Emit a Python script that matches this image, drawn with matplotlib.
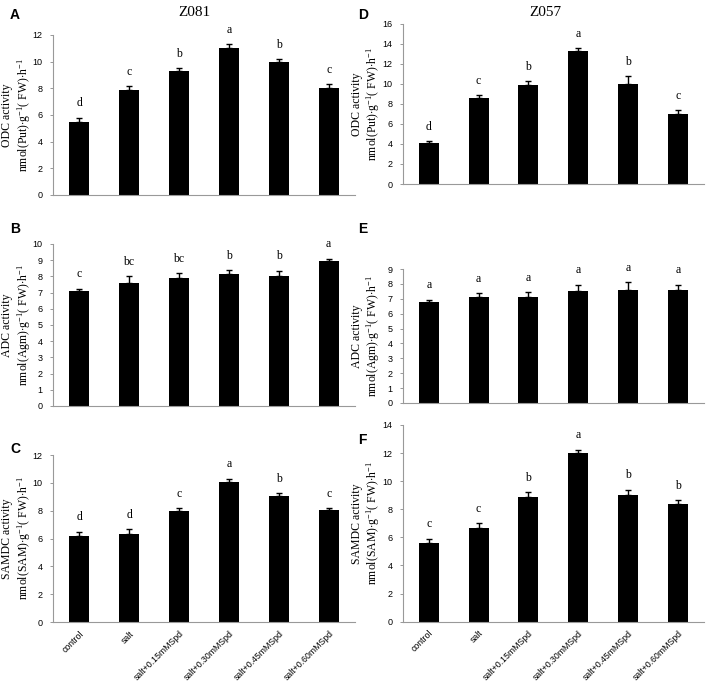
import matplotlib
matplotlib.use("Agg")
import matplotlib.pyplot as plt
import numpy as np

plt.rcParams["mathtext.fontset"] = "custom"
plt.rcParams["mathtext.rm"] = "Liberation Serif"
plt.rcParams["mathtext.it"] = "Liberation Serif:italic"
plt.rcParams["mathtext.bf"] = "Liberation Serif:bold"

categories = ["control", "salt", "salt+0.15mMSpd", "salt+0.30mMSpd", "salt+0.45mMSpd", "salt+0.60mMSpd"]

odc_z081 = [5.5, 7.9, 9.3, 11.0, 10.0, 8.0]
odc_z081_err = [0.3, 0.25, 0.2, 0.3, 0.2, 0.3]
odc_z081_sig = ["d", "c", "b", "a", "b", "c"]

adc_z081 = [7.1, 7.6, 7.9, 8.15, 8.05, 8.95]
adc_z081_err = [0.15, 0.4, 0.3, 0.25, 0.3, 0.15]
adc_z081_sig = ["c", "bc", "bc", "b", "b", "a"]

samdc_z081 = [6.2, 6.3, 7.95, 10.05, 9.05, 8.05]
samdc_z081_err = [0.3, 0.35, 0.25, 0.25, 0.2, 0.15]
samdc_z081_sig = ["d", "d", "c", "a", "b", "c"]

odc_z057 = [4.1, 8.6, 9.85, 13.25, 10.0, 6.95]
odc_z057_err = [0.2, 0.3, 0.4, 0.35, 0.75, 0.4]
odc_z057_sig = ["d", "c", "b", "a", "b", "c"]

adc_z057 = [6.8, 7.1, 7.15, 7.5, 7.6, 7.6]
adc_z057_err = [0.15, 0.3, 0.3, 0.45, 0.5, 0.35]
adc_z057_sig = ["a", "a", "a", "a", "a", "a"]

samdc_z057 = [5.6, 6.7, 8.9, 12.0, 9.0, 8.4]
samdc_z057_err = [0.3, 0.3, 0.3, 0.25, 0.4, 0.25]
samdc_z057_sig = ["c", "c", "b", "a", "b", "b"]

serif = "Liberation Serif"
sans = "Liberation Sans"

fig = plt.figure(figsize=(7.08, 6.83), dpi=100)

panels = [
    ([0.075, 0.7145, 0.426, 0.2343], odc_z081, odc_z081_err, odc_z081_sig, 12, 2,
     ("ODC activity", r"nmol(Put)$\cdot$g$^{-1}$( FW)$\cdot$h$^{-1}$"), "A", False),
    ([0.075, 0.4056, 0.426, 0.2372], adc_z081, adc_z081_err, adc_z081_sig, 10, 1,
     ("ADC activity", r"nmol(Agm)$\cdot$g$^{-1}$( FW)$\cdot$h$^{-1}$"), "B", False),
    ([0.075, 0.0893, 0.426, 0.2445], samdc_z081, samdc_z081_err, samdc_z081_sig, 12, 2,
     ("SAMDC activity", r"nmol(SAM)$\cdot$g$^{-1}$( FW)$\cdot$h$^{-1}$"), "C", True),
    ([0.569, 0.7306, 0.425, 0.2343], odc_z057, odc_z057_err, odc_z057_sig, 16, 2,
     ("ODC activity", r"nmol(Put)$\cdot$g$^{-1}$( FW)$\cdot$h$^{-1}$"), "D", False),
    ([0.569, 0.410, 0.425, 0.196], adc_z057, adc_z057_err, adc_z057_sig, 9, 1,
     ("ADC activity", r"nmol(Agm)$\cdot$g$^{-1}$( FW)$\cdot$h$^{-1}$"), "E", False),
    ([0.569, 0.0898, 0.425, 0.288], samdc_z057, samdc_z057_err, samdc_z057_sig, 14, 2,
     ("SAMDC activity", r"nmol(SAM)$\cdot$g$^{-1}$( FW)$\cdot$h$^{-1}$"), "F", True),
]

letter_y = {"A": 0.978, "B": 0.665, "C": 0.343, "D": 0.978, "E": 0.665, "F": 0.356}

x = np.arange(len(categories))
for rect, vals, errs, sigs, ymax, step, ylab, letter, showx in panels:
    ax = fig.add_axes(rect)
    ax.bar(x, vals, width=0.4, color="black", zorder=2)
    ax.errorbar(x, vals, yerr=[np.zeros(len(errs)), errs], fmt="none",
                ecolor="black", elinewidth=1.0, capsize=2.5, capthick=1.0, zorder=3)
    for xi, v, e, s in zip(x, vals, errs, sigs):
        ax.annotate(s, (xi, v + e), xytext=(0, 6), textcoords="offset points",
                    ha="center", va="bottom", fontsize=8.5, family=serif)
    ax.set_xlim(-0.52, 5.52)
    ax.set_ylim(0, ymax)
    ax.set_yticks(np.arange(0, ymax + 0.01, step))
    ax.tick_params(axis="y", labelsize=6.5, length=2.5, width=0.6, color="#888888", pad=5)
    for lab in ax.get_yticklabels():
        lab.set_family(sans)
    for sp in ["top", "right"]:
        ax.spines[sp].set_visible(False)
    for sp in ["left", "bottom"]:
        ax.spines[sp].set_color("#999999")
        ax.spines[sp].set_linewidth(0.8)
    ax.set_xticks(x)
    if showx:
        ax.set_xticklabels(categories, rotation=45, ha="right", rotation_mode="anchor",
                           fontsize=6.3, family=sans)
        ax.tick_params(axis="x", length=0, pad=5)
    else:
        ax.set_xticklabels([])
        ax.tick_params(axis="x", length=0)
    ax.set_ylabel(ylab[0] + "\n" + ylab[1], fontsize=8.5, family=serif,
                  linespacing=1.15)
    ax.yaxis.set_label_coords(-0.068, 0.5)
    left_x = 0.014 if rect[0] < 0.3 else 0.506
    fig.text(left_x, letter_y[letter], letter, fontsize=10, fontweight="bold",
             family=sans, va="center")

fig.text(0.275, 0.982, "Z081", fontsize=11, family=serif, ha="center", va="center")
fig.text(0.77, 0.982, "Z057", fontsize=11, family=serif, ha="center", va="center")

fig.savefig("out.png", dpi=100, facecolor="white")
